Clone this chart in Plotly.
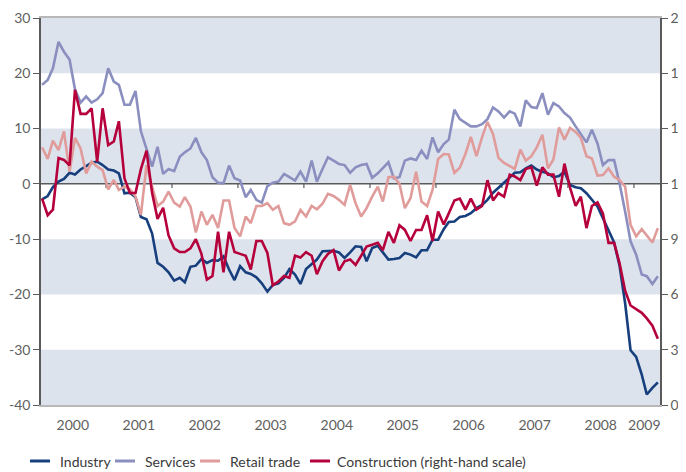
import pandas as pd
import plotly.graph_objects as go

# Monthly observations, Jan 2000 - May 2009
months = pd.date_range("2000-01-01", periods=113, freq="MS")

industry = [
    -2.8, -2.2, -0.6, 0.4, 0.9, 2.0, 1.7, 2.6, 3.2, 3.8, 4.0, 3.4, 2.6, 2.4, 1.9, -1.7, -1.6, -2.4, -6.0, -6.4, -9.0,
    -14.3, -15.0, -16.0, -17.5, -17.0, -17.8, -15.0, -14.8, -13.6, -14.3, -13.8, -13.9, -13.1, -15.5, -17.4, -14.9,
    -16.0, -16.3, -16.9, -18.0, -19.5, -18.3, -18.0, -17.0,
    -15.4, -16.4, -18.1, -15.4, -14.5, -13.7, -12.2, -12.2, -12.1, -12.4, -13.4, -12.4, -11.3, -11.4, -14.0, -11.6,
    -11.2, -12.4, -13.7, -13.6,
    -13.4, -12.5, -12.8, -13.3, -12.0, -12.0, -10.1, -10.1, -8.2, -6.9, -6.8, -6.0, -5.8, -5.3, -4.4, -3.8, -2.9,
    -1.6, -0.7, 0.3, 1.3, 2.0,
    2.1, 2.8, 3.3, 2.6, 2.2, 1.9, 1.2, 1.4, 2.2, -0.2, -0.6, -0.8, -1.7, -2.8, -4.1, -6.2, -8.3, -10.6, -14.8,
    -21.6, -30.1, -31.3, -34.5, -38.1, -36.9, -35.9,
]

services = [
    17.9, 18.8, 20.9, 25.7, 23.9, 22.5, 17.1, 14.7, 15.8, 14.7, 15.3, 16.4, 20.9, 18.5, 17.9, 14.3, 14.3, 16.8,
    9.5, 6.1, 3.1, 6.7, 1.8,
    2.7, 2.3, 4.9, 5.7, 6.4, 8.3, 5.7, 4.3, 1.2, 0.2, 0.1, 3.3, 1.0, 0.6, -2.4, -1.1, -2.9, -3.4, -0.4, 0.2, 0.4,
    1.8, 1.2, 0.6, 2.2, 0.4, 4.2, 0.4, 2.7, 4.8, 4.2, 3.6, 3.4, 2.0, 3.0, 3.4, 3.6, 1.1, 1.9, 2.8, 3.9, 1.0, 1.2, 4.2,
    4.6, 4.3, 6.0, 4.5, 8.4, 5.7, 7.2, 8.0, 13.4, 11.7, 11.1, 10.4, 10.4, 10.8, 11.7, 13.8, 13.1, 12.0, 13.1, 12.7,
    10.4, 15.1, 13.9, 13.7, 16.4, 12.5, 14.6, 14.0, 12.8, 12.0, 10.4, 8.9, 7.5, 9.8, 7.3, 3.4, 4.3, 4.3, 0.1,
    -5.0, -10.4, -12.8, -16.4, -16.7, -18.1, -16.7,
]

retail = [
    6.6, 4.5, 7.8, 6.1, 9.5, 2.2, 8.3, 6.4, 1.9, 4.0, 3.1, 2.5, -1.0, 0.7, -1.1, -0.5, -1.0, -2.3, -5.6, 3.4, -0.5,
    -4.0, -3.2, -1.4, -3.4, -4.1, -2.4, -4.1, -8.8, -5.0, -7.4, -5.6, -8.0, -3.0, -3.0, -8.0, -9.5, -5.9, -7.1,
    -4.0, -4.0, -3.5, -4.7, -4.0, -7.1,
    -7.4, -6.8, -4.7, -5.9, -4.0, -4.6, -3.6, -1.8, -2.2, -2.9, -3.8, -0.2, -3.5, -5.9, -4.4, -2.3, -0.5, -3.2,
    1.2, 1.3, 0.0, -4.4,
    -2.6, 2.2, -3.2, -4.0, -1.1, 4.5, 5.4, 5.3, 2.0, 2.9, 5.4, 8.5, 5.0, 8.4, 11.2, 9.0, 4.7, 3.8, 3.3, 2.7,
    6.2, 4.2, 5.0, 6.6, 8.9, 2.8, 4.4, 10.2, 8.0, 10.1, 9.4, 8.3, 5.0, 4.6, 1.5, 1.6, 2.8, 1.3, 0.7, -0.5,
    -7.4, -9.5, -8.2, -9.4, -10.6, -8.0,
]

# Construction, right-hand scale
construction = [
    11.2, 10.3, 10.6, 13.4, 13.3, 13.0, 17.1, 15.8, 15.8, 16.1, 13.2, 16.1, 14.1, 14.3, 15.4, 12.3, 11.5, 11.5,
    12.8, 13.8, 11.5, 10.1, 10.7,
    9.2, 8.5, 8.3, 8.3, 8.5, 9.0, 8.2, 6.8, 7.0, 9.4, 7.2, 9.4, 8.3, 8.2, 8.1, 7.35, 8.9, 8.9, 8.25, 6.5, 6.7, 7.0,
    6.9, 8.1, 8.0, 8.3, 8.1, 7.1, 7.8, 8.2, 8.4, 7.3, 7.8, 7.9, 7.6, 8.1, 8.6, 8.7, 8.8, 8.4, 9.4, 8.8, 9.75, 9.5,
    8.9, 9.5, 9.5, 10.3, 8.9, 10.5, 9.8, 10.4, 11.1, 11.2, 10.6, 11.2, 10.6, 10.8, 12.2, 11.1, 11.5, 11.3, 12.5, 12.4,
    12.2, 12.8, 12.9, 11.9, 12.9, 12.5, 12.5, 11.3, 13.1, 11.8, 10.8, 11.3, 9.6, 10.8, 11.0, 10.4, 8.8, 8.8, 7.7,
    6.2, 5.4, 5.2, 5.0, 4.7, 4.3, 3.6,
]

series_names = ["Industry", "Services", "Retail trade", "Construction (right-hand scale)"]

years = ["2000", "2001", "2002", "2003", "2004", "2005", "2006", "2007", "2008", "2009"]
year_label_pos = ["2000-06-19", "2001-06-19", "2002-06-19", "2003-06-19", "2004-06-19",
                  "2005-06-19", "2006-06-19", "2007-06-19", "2008-06-19", "2009-02-15"]
year_bounds = ["2000-12-20", "2001-12-20", "2002-12-20", "2003-12-20", "2004-12-20",
               "2005-12-20", "2006-12-20", "2007-12-20", "2008-12-20"]

left_ticks = [-40, -30, -20, -10, 0, 10, 20, 30]
left_ticktext = ["-40", "-30", "-20", "-10", "0", "10", "20", "30"]
right_ticks = [0, 3, 6, 9, 12, 15, 18, 21]

C_IND = "#173f7d"
C_SRV = "#8b8fbf"
C_RET = "#e09c9b"
C_CON = "#b5003c"
colors = [C_IND, C_SRV, C_RET, C_CON]
BAND = "#dde3ed"
TXT = "#5f5f5f"
AX = "#5a5a5a"
FONT = "Lato"

# The page body has an 8px margin, so the figure is drawn 8px in from the window corner.
OFF = 8
W, H = 686 - OFF, 472 - OFF
ML, MR, MT, MB = 41 - OFF, 26, 18 - OFF, 67
PW, PH = W - ML - MR, H - MT - MB

fig = go.Figure()
data = [industry, services, retail, construction]
for name, vals, col in zip(series_names, data, colors):
    fig.add_trace(go.Scatter(x=months, y=vals, name=name, mode="lines",
                             line=dict(color=col, width=2.6),
                             yaxis="y2" if vals is construction else "y",
                             showlegend=False))

shapes = []
for lo, hi in [(20, 30), (0, 10), (-20, -10), (-40, -30)]:
    shapes.append(dict(type="rect", xref="paper", yref="y", x0=0, x1=1, y0=lo, y1=hi,
                       fillcolor=BAND, line=dict(width=0), layer="below"))
shapes.append(dict(type="line", xref="paper", yref="y", x0=0, x1=1, y0=0, y1=0,
                   line=dict(color=AX, width=1.5), layer="below"))
for b in year_bounds:
    shapes.append(dict(type="line", xref="x", yref="y", x0=b, x1=b, y0=0, y1=-0.75,
                       line=dict(color=AX, width=1.2), layer="below"))

# custom legend (line sample + text), positions in window px
legend_line_x = [30, 115, 200, 310]
legend_text_x = [58, 143, 228, 335]
legend_y_px = 461
ly = (H + OFF - MB - legend_y_px) / PH
annotations = []
for name, col, lx, tx in zip(series_names, colors, legend_line_x, legend_text_x):
    shapes.append(dict(type="line", xref="paper", yref="paper",
                       x0=(lx - OFF - ML) / PW, x1=(lx + 20 - OFF - ML) / PW, y0=ly, y1=ly,
                       line=dict(color=col, width=3)))
    annotations.append(dict(xref="paper", yref="paper", x=(tx - OFF - ML) / PW, y=ly,
                            xanchor="left", yanchor="middle", showarrow=False, text=name,
                            font=dict(family=FONT, size=14, color="#3a3a3a")))

fig.update_layout(
    width=W, height=H,
    margin=dict(l=ML, r=MR, t=MT, b=MB, autoexpand=False),
    paper_bgcolor="white", plot_bgcolor="white",
    font=dict(family=FONT, size=13, color=TXT),
    shapes=shapes,
    annotations=annotations,
    showlegend=False,
    xaxis=dict(type="date", range=["1999-12-26", "2009-05-13"], automargin=False,
               tickmode="array", tickvals=year_label_pos, ticktext=years,
               ticks="", showgrid=False, zeroline=False,
               showline=True, linecolor="#b8b8b8", linewidth=1.5, mirror=True,
               tickfont=dict(family=FONT, size=14, color=TXT), ticklabelstandoff=6),
    yaxis=dict(range=[-40, 30], tickmode="array", tickvals=left_ticks, ticktext=left_ticktext,
               automargin=False,
               ticks="outside", ticklen=6, tickcolor=AX, tickwidth=1.2,
               showline=True, linecolor=AX, linewidth=1.5,
               showgrid=False, zeroline=False,
               tickfont=dict(family=FONT, size=14, color=TXT)),
    yaxis2=dict(range=[0, 21], tickmode="array", tickvals=right_ticks, overlaying="y", side="right",
                automargin=False,
                ticks="outside", ticklen=6, tickcolor=AX, tickwidth=1.2,
                showline=True, linecolor=AX, linewidth=1.5,
                showgrid=False, zeroline=False,
                tickfont=dict(family=FONT, size=14, color=TXT)),
)

fig.write_html("out.html")
